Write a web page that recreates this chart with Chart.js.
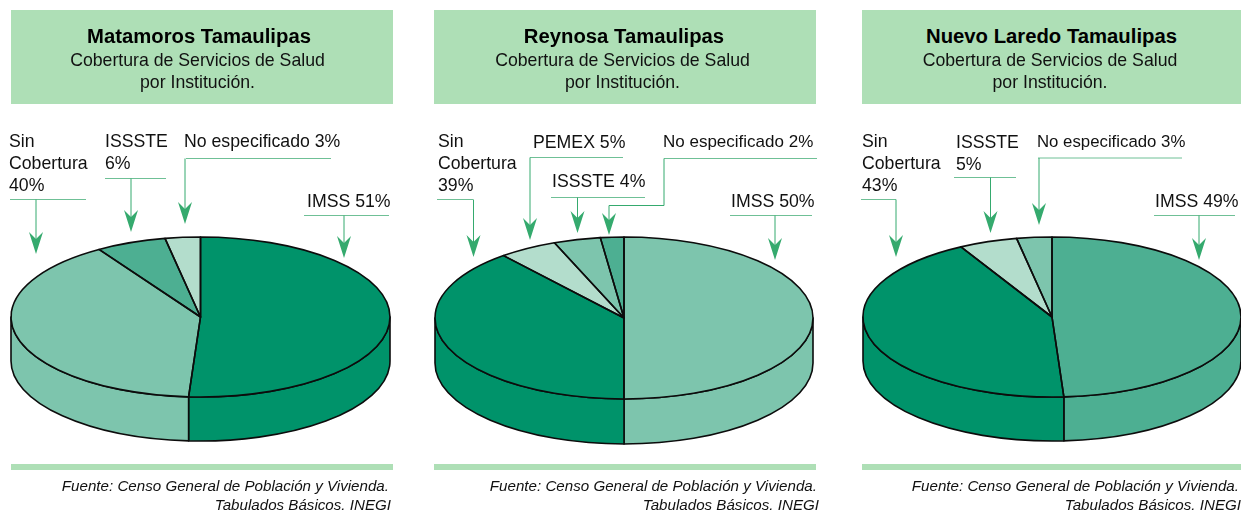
<!DOCTYPE html>
<html lang="es">
<head>
    <meta charset="UTF-8">
    <title>Cobertura de Servicios de Salud por Institución</title>
    <script src="https://cdn.jsdelivr.net/npm/chart.js"></script>
    <style>
        body {
            margin: 0;
            background: #fff;
            font-family: "Liberation Sans", Arial, sans-serif;
            color: #111;
            overflow: hidden;
        }
        #page { position: relative; width: 1241px; height: 510px; overflow: hidden; }
        .panel { position: absolute; top: 0; height: 510px; }
        .panel canvas { position: absolute; left: 0; top: 0; }
        .abs { position: absolute; white-space: nowrap; }
        .head {
            position: absolute; top: 10px; height: 94px;
            background: #aedfb6; text-align: center;
        }
        .head b { display: block; position: absolute; top: 14px; left: 0; right: 0; font-size: 20.3px; line-height: 24px; color: #000; }
        .head span { display: block; position: absolute; top: 40px; left: 0; right: 0; font-size: 17.7px; line-height: 21.5px; }
        .bar { position: absolute; top: 464px; height: 6px; background: #aedfb6; }
        .fuente {
            position: absolute; top: 476px; text-align: right;
            font-style: italic; font-size: 15.15px; line-height: 19px; white-space: nowrap;
        }
        .fuente i { padding-right: 2px; }
        .callout { font-size: 17.7px; line-height: 22px; }
    </style>
</head>
<body>
<div id="page"></div>
<script>
    // Datos
    const ciudades = ['Matamoros Tamaulipas', 'Reynosa Tamaulipas', 'Nuevo Laredo Tamaulipas'];
    const categoriasMatamoros = ['IMSS', 'Sin Cobertura', 'ISSSTE', 'No especificado'];
    const valoresMatamoros = [51, 40, 6, 3];
    const categoriasReynosa = ['IMSS', 'Sin Cobertura', 'PEMEX', 'ISSSTE', 'No especificado'];
    const valoresReynosa = [50, 39, 5, 4, 2];
    const categoriasLaredo = ['IMSS', 'Sin Cobertura', 'ISSSTE', 'No especificado'];
    const valoresLaredo = [49, 43, 5, 3];

    const subtitulo = ['Cobertura de Servicios de Salud', 'por Institución.'];
    const fuente = ['Fuente: Censo General de Población y Vivienda.', 'Tabulados Básicos. INEGI'];

    // Colores de cada rebanada
    const oscuro = '#00936a', medio = '#4daf92', claro = '#7dc5ad', palido = '#b3ddcc';
    const coloresMatamoros = [oscuro, claro, medio, palido];
    const coloresReynosa = [claro, oscuro, palido, claro, medio];
    const coloresLaredo = [medio, oscuro, palido, claro];

    // Posiciones en la página. cat: índice de la categoría, x/y: etiqueta, hline: tramo horizontal, path y tip: flecha
    const paneles = [
        {
            left: 0, width: 410, cx: 200.5, cy: 317, rx: 189.5, ry: 80, depth: 44,
            boxL: 11, boxW: 382, titleX: -3, fuenteR: 391,
            categorias: categoriasMatamoros, valores: valoresMatamoros, colores: coloresMatamoros,
            callouts: [
                { cat: 1, x: 9, y: 130, wrap: true, hline: [10, 86, 199], path: [[36, 199]], tip: [36, 254] },
                { cat: 2, x: 105, y: 130, wrap: true, hline: [105, 166, 178], path: [[131, 178]], tip: [131, 232] },
                { cat: 3, x: 184, y: 130, hline: [186, 331, 158], path: [[185, 158]], tip: [185, 224] },
                { cat: 0, x: 307, y: 190, hline: [304, 389, 215], path: [[344, 215]], tip: [344, 258] }
            ]
        },
        {
            left: 425, width: 410, cx: 624, cy: 318, rx: 189, ry: 81, depth: 45,
            boxL: 434, boxW: 382, titleX: -1, fuenteR: 819,
            categorias: categoriasReynosa, valores: valoresReynosa, colores: coloresReynosa,
            callouts: [
                { cat: 1, x: 438, y: 130, wrap: true, hline: [437, 473, 199], path: [[473.5, 199]], tip: [473.5, 257] },
                { cat: 2, x: 533, y: 131, hline: [530, 623, 157], path: [[530, 157]], tip: [530, 240] },
                { cat: 3, x: 552, y: 170, hline: [551, 645, 197], path: [[577.5, 197]], tip: [577.5, 233] },
                { cat: 4, x: 663, y: 131, size: 17, hline: [664, 817, 158], path: [[664, 158], [664, 205], [609, 205]], tip: [609, 235] },
                { cat: 0, x: 731, y: 190, hline: [730, 812, 215], path: [[775, 215]], tip: [775, 260] }
            ]
        },
        {
            left: 850, width: 391, cx: 1052, cy: 317, rx: 189, ry: 80, depth: 44,
            boxL: 862, boxW: 379, titleX: 0, fuenteR: 1241,
            categorias: categoriasLaredo, valores: valoresLaredo, colores: coloresLaredo,
            callouts: [
                { cat: 1, x: 862, y: 130, wrap: true, hline: [861, 896, 199], path: [[896, 199]], tip: [896, 257] },
                { cat: 2, x: 956, y: 131, wrap: true, hline: [954, 1016, 177], path: [[990.5, 177]], tip: [990.5, 233] },
                { cat: 3, x: 1037, y: 131, size: 16.8, hline: [1038, 1182, 157.5], path: [[1039, 157.5]], tip: [1039, 225] },
                { cat: 0, x: 1155, y: 190, hline: [1154, 1235, 215], path: [[1199, 215]], tip: [1199, 260] }
            ]
        }
    ];

    const trazo = '#0c0c0c';

    // Pastel en perspectiva: aplasta el dibujo de la librería y agrega la pared lateral
    const pastel3d = {
        id: 'pastel3d',
        beforeDatasetsDraw(chart, args, opts) {
            const ctx = chart.ctx;
            const arcs = chart.getDatasetMeta(0).data;
            ctx.save();
            ctx.lineWidth = 1.6;
            ctx.lineJoin = 'round';
            ctx.strokeStyle = trazo;
            arcs.forEach(arc => {
                const a = Math.max(arc.startAngle, 0);
                const b = Math.min(arc.endAngle, Math.PI);
                if (a >= b) return;
                ctx.beginPath();
                ctx.ellipse(arc.x, opts.cy, arc.outerRadius, opts.ry, 0, a, b);
                ctx.ellipse(arc.x, opts.cy + opts.depth, arc.outerRadius, opts.ry, 0, b, a, true);
                ctx.closePath();
                ctx.fillStyle = arc.options.backgroundColor;
                ctx.fill();
                ctx.stroke();
            });
            ctx.restore();
        },
        beforeDatasetDraw(chart, args, opts) {
            const ctx = chart.ctx;
            const arc = args.meta.data[0];
            ctx.save();
            ctx.translate(arc.x, opts.cy);
            ctx.scale(1, opts.ry / arc.outerRadius);
            ctx.translate(-arc.x, -arc.y);
        },
        afterDatasetDraw(chart, args, opts) {
            const ctx = chart.ctx;
            ctx.restore();
            ctx.save();
            ctx.lineWidth = 1.6;
            ctx.lineJoin = 'round';
            ctx.strokeStyle = trazo;
            args.meta.data.forEach(arc => {
                ctx.beginPath();
                ctx.moveTo(arc.x, opts.cy);
                ctx.ellipse(arc.x, opts.cy, arc.outerRadius, opts.ry, 0, arc.startAngle, arc.endAngle);
                ctx.closePath();
                ctx.stroke();
            });
            ctx.restore();
        },
        afterDraw(chart, args, opts) {
            const ctx = chart.ctx;
            ctx.save();
            ctx.translate(-opts.left, 0);
            opts.callouts.forEach(c => {
                ctx.lineWidth = 1;
                ctx.strokeStyle = '#6fc096';
                ctx.beginPath();
                ctx.moveTo(c.hline[0], c.hline[2] + 0.5);
                ctx.lineTo(c.hline[1], c.hline[2] + 0.5);
                ctx.stroke();
                ctx.strokeStyle = '#35aa6e';
                ctx.beginPath();
                c.path.forEach((p, i) => {
                    const py = p[1] + 0.5;
                    if (i === 0) ctx.moveTo(p[0], py); else ctx.lineTo(p[0], py);
                });
                ctx.lineTo(c.tip[0], c.tip[1] - 12);
                ctx.stroke();
                // punta de flecha
                const tx = c.tip[0], ty = c.tip[1];
                ctx.fillStyle = '#35aa6e';
                ctx.beginPath();
                ctx.moveTo(tx, ty);
                ctx.lineTo(tx - 7, ty - 22);
                ctx.lineTo(tx, ty - 15);
                ctx.lineTo(tx + 7, ty - 22);
                ctx.closePath();
                ctx.fill();
            });
            ctx.restore();
        }
    };

    const page = document.getElementById('page');

    function agregar(padre, clase, html, estilo) {
        const el = document.createElement('div');
        el.className = clase;
        el.innerHTML = html;
        Object.assign(el.style, estilo);
        padre.appendChild(el);
        return el;
    }

    paneles.forEach((p, i) => {
        const panel = agregar(page, 'panel', '', { left: p.left + 'px', width: p.width + 'px' });

        const canvas = document.createElement('canvas');
        canvas.width = p.width;
        canvas.height = 510;
        canvas.style.width = p.width + 'px';
        canvas.style.height = '510px';
        panel.appendChild(canvas);

        const padL = p.cx - p.rx - p.left;
        new Chart(canvas, {
            type: 'pie',
            data: {
                labels: p.categorias,
                datasets: [{
                    data: p.valores,
                    backgroundColor: p.colores,
                    borderWidth: 0,
                    clip: false
                }]
            },
            options: {
                responsive: false,
                animation: false,
                events: [],
                layout: {
                    padding: {
                        left: padL,
                        right: p.width - padL - 2 * p.rx,
                        top: 255 - p.rx,
                        bottom: 255 - p.rx
                    }
                },
                plugins: {
                    legend: { display: false },
                    tooltip: { enabled: false },
                    pastel3d: { left: p.left, cy: p.cy, ry: p.ry, depth: p.depth, callouts: p.callouts }
                }
            },
            plugins: [pastel3d]
        });

        // Encabezado
        const head = agregar(page, 'head', '', { left: p.boxL + 'px', width: p.boxW + 'px' });
        head.innerHTML = '<b style="transform:translateX(' + p.titleX + 'px)">' + ciudades[i] + '</b>'
            + '<span style="transform:translateX(' + (p.titleX - 1.5) + 'px)">' + subtitulo.join('<br>') + '</span>';

        // Barra y fuente
        agregar(page, 'bar', '', { left: p.boxL + 'px', width: p.boxW + 'px' });
        agregar(page, 'fuente', '<i>' + fuente[0] + '</i><br>' + fuente[1], { right: (1241 - p.fuenteR) + 'px' });

        // Etiquetas
        p.callouts.forEach(c => {
            let texto = p.categorias[c.cat] + ' ' + p.valores[c.cat] + '%';
            if (c.wrap) texto = texto.split(' ').join('<br>');
            const estilo = { left: c.x + 'px', top: c.y + 'px' };
            if (c.size) estilo.fontSize = c.size + 'px';
            agregar(page, 'abs callout', texto, estilo);
        });
    });
</script>
</body>
</html>
